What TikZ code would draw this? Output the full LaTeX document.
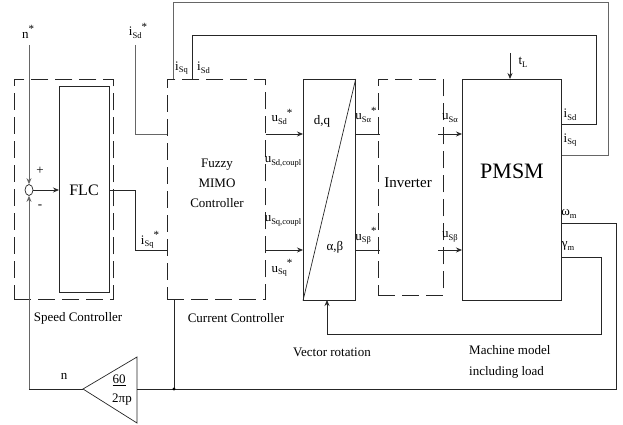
\documentclass[tikz,border=0pt]{standalone}
\usepackage{fontspec}
\setmainfont{Liberation Serif}
\usetikzlibrary{arrows.meta,shapes.geometric}
\newcommand\sbs[1]{\raisebox{-0.45ex}{\fontsize{8.5}{9}\selectfont #1}}
\newcommand\supstar{\raisebox{0.9ex}{\fontsize{11}{11}\selectfont *}}
\begin{document}
\begin{tikzpicture}[x=1pt,y=-1pt,
  box/.style={draw=black!85,line width=0.7pt,inner sep=0pt,anchor=north west},
  dbox/.style={box,dash pattern=on 17pt off 7pt},
  wire/.style={draw=black!60,line width=0.8pt},
  dwire/.style={draw=black!85,line width=0.8pt},
  arr/.style={-{Stealth[length=6pt,width=5pt]}},
  lab/.style={font=\fontsize{13}{15}\selectfont,inner sep=0pt},
  big/.style={font=\fontsize{16}{18}\selectfont,inner sep=0pt}]
\useasboundingbox (0,0) rectangle (623,425);
% boxes
\node[dbox,minimum width=99pt,minimum height=220pt] (spd) at (14,79) {};
\node[box,minimum width=50pt,minimum height=206pt] (flc) at (59,86) {};
\node[dbox,minimum width=98pt,minimum height=220pt] (cur) at (167,79) {};
\node[box,minimum width=52pt,minimum height=221pt] (vr) at (303,79) {};
\node[dbox,minimum width=65pt,minimum height=216pt] (inv) at (378,79) {};
\node[box,minimum width=99pt,minimum height=221pt] (pm) at (462,79) {};
\draw[dwire,line width=0.7pt] (vr.south west) -- (vr.north east);
\node[draw=black!85,line width=0.7pt,ellipse,minimum width=8pt,minimum height=11pt,inner sep=0pt] (sum) at (29,190) {};
% gain triangle
\coordinate (gl) at (83,389);
\coordinate (gt) at (137,357);
\coordinate (gb) at (137,423);
\coordinate (gr) at (137,389);
\draw[dwire,line width=0.7pt] (gl) -- (gt) -- (gb) -- cycle;
% coordinates
\coordinate (nstar) at (29,45);
\coordinate (isdin) at (135,45);
\coordinate (dot) at (174,389);
\coordinate (tl) at (510,53);
% texts
\node[lab] (tn) at (28,32) {n\supstar};
\node[lab] at (40,171) {+};
\node[lab] at (40,207) {-};
\node[big] at (84,190) {FLC};
\node[lab] (tisd) at (138,31) {i\sbs{Sd}\supstar};
\node[lab,anchor=west] at (175,68) {i\sbs{Sq}};
\node[lab,anchor=west] at (197,68) {i\sbs{Sd}};
\node[lab,align=center,font=\fontsize{13}{20}\selectfont] at (217,183) {Fuzzy\\MIMO\\Controller};
\node[lab] at (150,240) {i\sbs{Sq}\supstar};
\node[lab] at (282,117) {u\sbs{Sd}\supstar};
\node[lab] at (283,162) {u\sbs{Sd,coupl}};
\node[lab] at (283,221) {u\sbs{Sq,coupl}};
\node[lab] at (282,268) {u\sbs{Sq}\supstar};
\node[lab] at (322,121) {d,q};
\node[lab] at (335,247) {α,β};
\node[lab] at (366,115) {u\sbs{Sα}\supstar};
\node[lab] at (366,236) {u\sbs{Sβ}\supstar};
\node[lab,font=\fontsize{15}{17}\selectfont] at (408,183) {Inverter};
\node[lab] at (450,118) {u\sbs{Sα}};
\node[lab] at (450,237) {u\sbs{Sβ}};
\node[lab,font=\fontsize{22}{24}\selectfont] at (512,171) {PMSM};
\node[lab] at (523,62) {t\sbs{L}};
\node[lab] at (570,115) {i\sbs{Sd}};
\node[lab] at (570,140) {i\sbs{Sq}};
\node[lab] at (569,214) {ω\sbs{m}};
\node[lab] at (568,246) {γ\sbs{m}};
\node[lab] at (78,318) {Speed Controller};
\node[lab] at (236,318) {Current Controller};
\node[lab] at (332,352) {Vector rotation};
\node[lab,anchor=west,align=left,font=\fontsize{13}{21}\selectfont] at (469,362) {Machine model\\including load};
\node[lab] at (64,376) {n};
\node[lab] at (119,380) {\underline{60}};
\node[lab] at (122,400) {2πp};
% connectors
\draw[wire,arr] (nstar) -- (sum.north);
\draw[dwire,arr] (sum.east) -- (sum.east -| flc.west);
\draw[dwire] (flc.east |- 0,190) -- (135,190) -- (135,250) -- (cur.west |- 0,250);
\draw[wire] (isdin) -- (135,134) -- (cur.west |- 0,134);
\draw[wire] (cur.north west -| 173,0) -- (173,2) -- (608,2) -- (608,155) -- (pm.east |- 0,155);
\draw[dwire] (cur.north west -| 192,0) -- (192,35) -- (596,35) -- (596,124) -- (pm.east |- 0,124);
\draw[dwire,arr] (cur.east |- 0,134) -- (vr.west |- 0,134);
\draw[dwire,arr] (cur.east |- 0,250) -- (vr.west |- 0,250);
\draw[dwire] (vr.east |- 0,134) -- (380,134);
\draw[dwire] (vr.east |- 0,250) -- (380,250);
\draw[dwire,arr] (438,134) -- (pm.west |- 0,134);
\draw[dwire,arr] (438,250) -- (pm.west |- 0,250);
\draw[dwire,arr] (tl) -- (tl |- pm.north);
\draw[dwire] (pm.east |- 0,223) -- (616,223) -- (616,389) -- (gr);
\draw[dwire] (gl) -- (29,389);
\draw[wire,arr] (29,389) -- (sum.south);
\draw[dwire] (dot) -- (dot |- cur.south);
\fill (dot) circle (1.6pt);
\draw[dwire,arr] (pm.east |- 0,257) -- (601,257) -- (601,334) -- (327,334) -- (327,300);
\end{tikzpicture}
\end{document}
